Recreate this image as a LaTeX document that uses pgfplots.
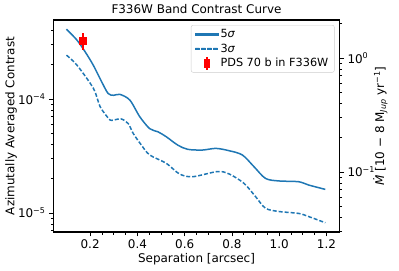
\documentclass[border=0pt]{standalone}
\usepackage{fontspec}
\setmainfont{DejaVu Sans}
\usepackage{pgfplots}
\pgfplotsset{compat=1.18}
\definecolor{cblue}{rgb}{0.122,0.467,0.706}
\definecolor{legframe}{HTML}{CCCCCC}
\newcommand{\fs}{\fontsize{12}{14}\selectfont}
\pgfplotsset{longsolid/.style={legend image code/.code={\fill[cblue, sharp corners] (0bp,-0.75bp) rectangle (23bp,0.75bp);}}}
\pgfplotsset{longdash/.style={legend image code/.code={\fill[cblue, sharp corners] (0bp,-0.75bp) rectangle (4bp,0.75bp) (6bp,-0.75bp) rectangle (10bp,0.75bp) (12bp,-0.75bp) rectangle (16bp,0.75bp) (18bp,-0.75bp) rectangle (22bp,0.75bp);}}}
\pgfplotsset{errleg/.style={legend image code/.code={
  \fill[red, sharp corners] (10.75bp,-6bp) rectangle (12.25bp,6bp);
  \fill[red, sharp corners] (9bp,-4bp) rectangle (14bp,4bp);}}}
\begin{document}
\begin{tikzpicture}
\useasboundingbox (-53.5bp,-39bp) rectangle (345.5bp,232bp);
\begin{axis}[
  scale only axis, width=286bp, height=212bp,
  xmin=0.045, xmax=1.255,
  ymode=log, ymin=6.8e-6, ymax=4.95e-4,
  xtick={0.2,0.4,0.6,0.8,1.0,1.2},
  xticklabels={0.2,0.4,0.6,0.8,1.0,1.2},
  minor x tick num=3,
  ytick={1e-5,1e-4},
  yticklabels={10\textsuperscript{−5},10\textsuperscript{−4}},
  minor ytick={7e-6,8e-6,9e-6,2e-5,3e-5,4e-5,5e-5,6e-5,7e-5,8e-5,9e-5,2e-4,3e-4,4e-4},
  tick align=outside, xtick pos=bottom, ytick pos=left,
  major tick length=4.5bp, minor tick length=2.5bp,
  every tick/.style={black, line width=0.8bp},
  axis line style={line width=1.2bp},
  tick label style={font=\fs},
  title={F336W Band Contrast Curve},
  title style={font=\fs, at={(axis description cs:0.5,1)}, anchor=south, yshift=-3bp},
  xlabel={Separation [arcsec]},
  xlabel style={font=\fs, yshift=2bp},
  ylabel={Azimutally Averaged Contrast},
  every axis y label/.style={at={(axis description cs:-0.148,0.5)}, rotate=90, anchor=center, font=\fs},
  legend style={at={(axis description cs:1,1)}, anchor=north east, xshift=-5bp, yshift=-5bp,
     draw=legframe, rounded corners=2bp, fill=white, font=\fontsize{11.3}{13}\selectfont,
     inner xsep=4bp, inner ysep=2bp, row sep=0.8bp},
  legend cell align=left,
]
\addplot[cblue, line width=1.5bp, smooth, tension=0.5, forget plot] coordinates {
(0.100,4.11e-4) (0.144,3.30e-4) (0.180,2.58e-4) (0.213,1.99e-4) (0.245,1.47e-4)
(0.276,1.12e-4) (0.300,1.08e-4) (0.326,1.10e-4) (0.368,9.8e-5) (0.410,7.0e-5)
(0.452,5.5e-5) (0.487,5.16e-5) (0.522,4.67e-5) (0.571,3.94e-5) (0.613,3.62e-5)
(0.676,3.57e-5) (0.732,3.69e-5) (0.788,3.52e-5) (0.844,3.23e-5) (0.893,2.55e-5)
(0.942,2.01e-5) (0.998,1.91e-5) (1.082,1.88e-5) (1.124,1.76e-5) (1.195,1.61e-5)
};
\addplot[cblue, line width=1.5bp, dash pattern=on 4bp off 2bp, smooth, tension=0.5, forget plot] coordinates {
(0.100,2.43e-4) (0.144,1.99e-4) (0.214,1.24e-4) (0.242,8.6e-5) (0.277,6.8e-5)
(0.291,6.5e-5) (0.330,6.7e-5) (0.361,6.1e-5) (0.382,5.0e-5) (0.417,3.94e-5)
(0.452,3.23e-5) (0.522,2.73e-5) (0.578,2.2e-5) (0.634,2.08e-5) (0.739,2.31e-5)
(0.788,2.2e-5) (0.851,1.82e-5) (0.900,1.39e-5) (0.942,1.10e-5) (0.998,1.03e-5)
(1.082,9.9e-6) (1.124,9.3e-6) (1.195,8.2e-6)
};
\addplot[red, only marks, mark=square*, mark size=3.5bp, forget plot,
  error bars/.cd, y dir=both, y explicit, error mark=none,
  error bar style={red, line width=1.5bp},
  ] coordinates {(0.169,3.23e-4) +- (0,0.55e-4)};
\addlegendimage{longsolid}
\addlegendentry{5{\itshape σ}}
\addlegendimage{longdash}
\addlegendentry{3{\itshape σ}}
\addlegendimage{errleg}
\addlegendentry{PDS 70 b in F336W}
\end{axis}
\begin{axis}[
  scale only axis, width=286bp, height=212bp,
  xmin=0.045, xmax=1.255,
  ymode=log, ymin=0.0297, ymax=2.16,
  axis x line=none, axis y line*=right,
  ytick={0.1,1},
  yticklabels={10\textsuperscript{−1},10\textsuperscript{0}},
  minor ytick={0.03,0.04,0.05,0.06,0.07,0.08,0.09,0.2,0.3,0.4,0.5,0.6,0.7,0.8,0.9,2},
  tick align=outside,
  major tick length=4.5bp, minor tick length=2.5bp,
  every tick/.style={black, line width=0.8bp},
  axis line style={line width=1.2bp},
  tick label style={font=\fs},
  every axis y label/.style={at={(axis description cs:1.143,0.5)}, rotate=90, anchor=center, font=\fs},
  ylabel={{\itshape \.{M}} [10 − 8 M\textsubscript{\itshape Jup} yr\textsuperscript{−1}]},
]
\addplot[draw=none] coordinates {(0.5,0.1)};
\end{axis}
\end{tikzpicture}
\end{document}
